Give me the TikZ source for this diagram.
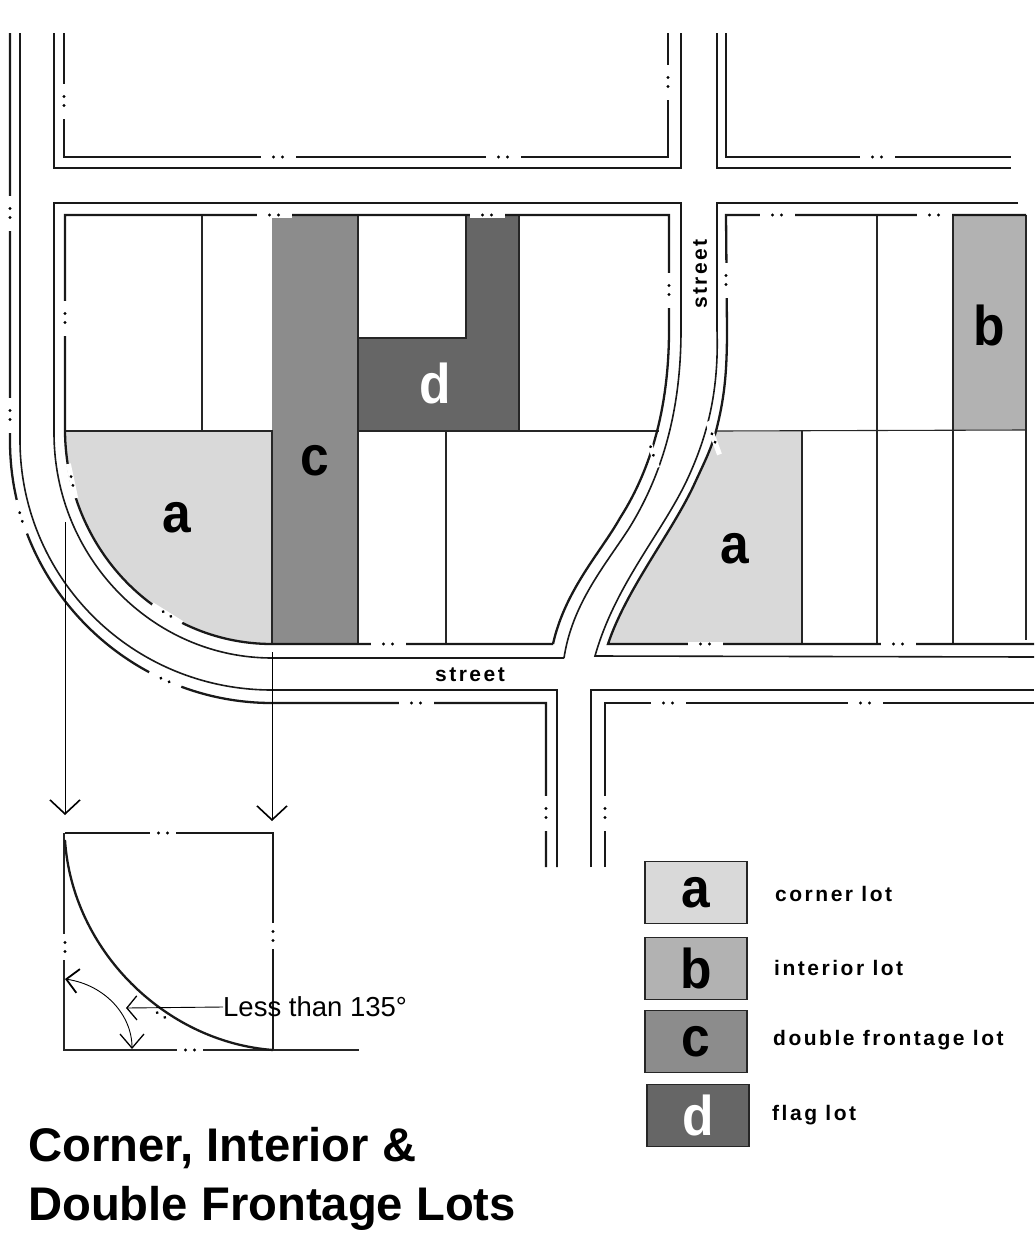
\documentclass[tikz,border=0pt]{standalone}
\usepackage{fontspec}
\setmainfont{Liberation Sans}
\newfontfamily\spacedfont[LetterSpace=12]{Liberation Sans}
\newfontfamily\letterfont[FakeStretch=0.92]{Liberation Sans}
\usetikzlibrary{arrows.meta}
\definecolor{lotA}{HTML}{D9D9D9}
\definecolor{lotB}{HTML}{B2B2B2}
\definecolor{lotC}{HTML}{8C8C8C}
\definecolor{lotD}{HTML}{666666}

\begin{document}
\begin{tikzpicture}[x=1pt, y=-1pt,
    propline/.style={line width=2.3pt, black!90},
    curbline/.style={line width=1.6pt, black!90},
    lotline/.style={line width=1.1pt, black!85},
    drawnarrow/.style={line width=1pt, -{Straight Barb[length=14pt,width=30pt,line width=1.6pt]}},
    biglabel/.style={anchor=base, inner sep=0pt, font=\fontsize{56}{56}\letterfont\bfseries},
    keybox/.style={draw=black!85, line width=1.8pt, minimum width=102pt, minimum height=62pt, inner sep=0pt, font=\fontsize{56}{56}\letterfont\bfseries},
    keytext/.style={anchor=west, inner sep=0pt, font=\fontsize{21}{21}\spacedfont\bfseries},
    streettext/.style={inner sep=0pt, font=\fontsize{21}{21}\spacedfont\bfseries}]
    \useasboundingbox (0, 0) rectangle (1034, 1250);

    % break in a property line: white gap and two dots
    \def\breaklen{17.5}
    \def\lotbreak#1#2#3{%
        \begin{scope}[shift={(#1, #2)}, rotate=#3]
            \fill[white] (-\breaklen, -2.5) rectangle (\breaklen, 2.5);
            \fill (-4.5, 0) circle (1.6pt);
            \fill (4.5, 0) circle (1.6pt);
        \end{scope}}

    % lot fills
    \fill[lotA] (66, 431) -- (272, 431) -- (272, 644) .. controls (158, 644) and (66, 549) .. (66, 431) -- cycle;
    \fill[lotA] (802, 431) -- (716, 431) .. controls (711, 450) and (703, 465) .. (693, 487) .. controls (670, 535) and (626, 590) .. (608, 644) -- (802, 644) -- cycle;
    \fill[lotB] (953, 215) rectangle (1026, 430);
    \fill[lotC] (272, 215) rectangle (358, 644);
    \fill[lotD] (466, 215) -- (519, 215) -- (519, 431) -- (358, 431) -- (358, 338) -- (466, 338) -- cycle;

    % lot lines
    \draw[lotline] (202, 215) -- (202, 431);
    \draw[lotline] (66, 431) -- (272, 431) -- (272, 644);
    \draw[lotline] (358, 215) -- (358, 644);
    \draw[lotline] (358, 338) -- (466, 338) -- (466, 215);
    \draw[lotline] (519, 215) -- (519, 431);
    \draw[lotline] (358, 431) -- (659, 431);
    \draw[lotline] (446, 431) -- (446, 644);
    \draw[lotline] (716, 431) -- (1026, 430);
    \draw[lotline] (802, 431) -- (802, 644);
    \draw[lotline] (877, 215) -- (877, 644);
    \draw[lotline] (953, 215) -- (953, 644);
    \draw[lotline] (1026, 215) -- (1026, 640);

    % top blocks
    \draw[curbline] (54, 33) -- (54, 168) -- (681, 168) -- (681, 33);
    \draw[propline] (64, 33) -- (64, 157) -- (668, 157) -- (668, 33);
    \draw[curbline] (717, 33) -- (717, 168) -- (1011, 168);
    \draw[propline] (726, 33) -- (726, 157) -- (1011, 157);

    % far left road, round to the bottom street
    \draw[propline] (10, 33) -- (10, 441) .. controls (10, 585) and (128, 703) .. (272, 703) -- (546, 703) -- (546, 867);
    \draw[curbline] (20, 33) -- (20, 440) .. controls (20, 578) and (132, 690) .. (272, 690) -- (557, 690) -- (557, 867);

    % middle block, left
    \draw[curbline] (681, 330) -- (681, 203) -- (54, 203) -- (54, 433) .. controls (54, 557) and (152, 658) .. (272, 658) -- (564, 658);
    \draw[curbline] (681, 330) .. controls (681, 400) and (667, 468) .. (628, 530) .. controls (603, 568) and (572, 605) .. (564, 658);
    \draw[propline] (669, 330) -- (669, 215) -- (65, 215) -- (65, 431) .. controls (66, 549) and (158, 644) .. (272, 644) -- (553, 644);
    \draw[propline] (669, 330) .. controls (669, 400) and (654, 465) .. (620, 518) .. controls (601, 552) and (565, 590) .. (553, 644);

    % middle block, right
    \draw[curbline] (1018, 203) -- (717, 203) -- (717, 330);
    \draw[curbline] (717, 330) .. controls (719, 390) and (708, 435) .. (687, 480) .. controls (662, 533) and (615, 585) .. (595, 656) -- (1034, 657);
    \draw[propline] (1026, 215) -- (726, 215) -- (727, 330);
    \draw[propline] (727, 330) .. controls (727, 375) and (724, 400) .. (716, 431) .. controls (711, 450) and (703, 465) .. (693, 487) .. controls (670, 535) and (626, 590) .. (608, 644) -- (1034, 644);

    % bottom right block
    \draw[curbline] (591, 867) -- (591, 690) -- (1034, 690);
    \draw[propline] (605, 867) -- (605, 703) -- (1034, 703);

    % breaks
    \lotbreak{64}{101}{90}
    \lotbreak{278}{157}{0}
    \lotbreak{503}{157}{0}
    \lotbreak{668}{82}{90}
    \lotbreak{877}{157}{0}
    \lotbreak{10}{213}{90}
    \lotbreak{10}{415}{90}
    \lotbreak{21}{517}{-73}
    \lotbreak{165}{680}{-24}
    \lotbreak{65}{318}{90}
    \lotbreak{72}{481}{-78}
    \lotbreak{167}{614}{-32}
    \lotbreak{274}{215}{0}
    \lotbreak{487}{215}{0}
    \lotbreak{669}{290}{90}
    \lotbreak{652}{451}{-72}
    \lotbreak{388}{644}{0}
    \lotbreak{777}{215}{0}
    \lotbreak{934}{215}{0}
    \lotbreak{726}{280}{90}
    \lotbreak{713.5}{438}{-70}
    \lotbreak{705}{644}{0}
    \lotbreak{898}{644}{0}
    \lotbreak{416}{703}{0}
    \lotbreak{668}{703}{0}
    \lotbreak{865}{703}{0}
    \lotbreak{546}{813}{90}
    \lotbreak{605}{813}{90}

    % lot letters
    \node[biglabel] (lotaleft) at (177, 532) {a};
    \node[biglabel] (lotaright) at (735, 563) {a};
    \node[biglabel] (lotb) at (989, 345) {b};
    \node[biglabel] (lotc) at (315, 475) {c};
    \node[biglabel, white] (lotd) at (435, 403) {d};

    % street names
    \node[streettext] (streetx) at (470, 675) {street};
    \node[streettext, rotate=90] (streety) at (700, 274) {street};

    % projection to the detail
    \coordinate (dropa) at (65, 522);
    \coordinate (dropatip) at (65, 815);
    \coordinate (dropb) at (272, 652);
    \coordinate (dropbtip) at (272, 821);
    \draw[drawnarrow] (dropa) -- (dropatip);
    \draw[drawnarrow] (dropb) -- (dropbtip);

    % detail square
    \draw[propline] (65, 833) -- (273, 833) -- (273, 1050);
    \draw[lotline, line width=1.5pt] (64, 833) -- (64, 1050) -- (359, 1050);
    \draw[propline] (65, 840) .. controls (72, 950) and (165, 1042) .. (273, 1050);
    \def\breaklen{13}
    \lotbreak{163}{833}{0}
    \lotbreak{273}{936}{90}
    \lotbreak{65}{947}{90}
    \lotbreak{190}{1050}{0}
    \lotbreak{161}{1015}{-32}

    % angle arc and leader
    \node[anchor=west, inner sep=0pt, font=\fontsize{27.5}{27.5}\selectfont] (lessthan) at (223, 1007) {Less than 135°};
    \coordinate (leadertip) at (126, 1008);
    \coordinate (arcleft) at (65, 979);
    \coordinate (arcbottom) at (132, 1049);
    \draw[line width=0.9pt, -{Straight Barb[length=10pt,width=24pt,line width=1.3pt]}] (lessthan.west) -- (leadertip);
    \draw[line width=0.9pt, {Straight Barb[length=12pt,width=24pt,line width=1.8pt]}-{Straight Barb[length=14pt,width=24pt,line width=1.3pt]}] (arcleft) .. controls (105, 985) and (132, 1015) .. (arcbottom);

    % legend
    \node[keybox, fill=lotA] (keya) at (696, 892.5) {a};
    \node[keybox, fill=lotB] (keyb) at (696, 968.5) {b};
    \node[keybox, fill=lotC] (keyc) at (696, 1041.5) {c};
    \node[keybox, fill=lotD, text=white] (keyd) at (698, 1115.5) {d};
    \node[keytext] (texta) at (775, 894) {corner lot};
    \node[keytext] (textb) at (774, 968) {interior lot};
    \node[keytext] (textc) at (773, 1040) {double frontage lot};
    \node[keytext] (textd) at (772, 1115) {flag lot};

    % title
    \node[anchor=north west, inner sep=0pt, align=left, font=\fontsize{47.2}{59}\selectfont\bfseries] (title) at (28, 1127) {Corner, Interior \&\\Double Frontage Lots};
\end{tikzpicture}
\end{document}
